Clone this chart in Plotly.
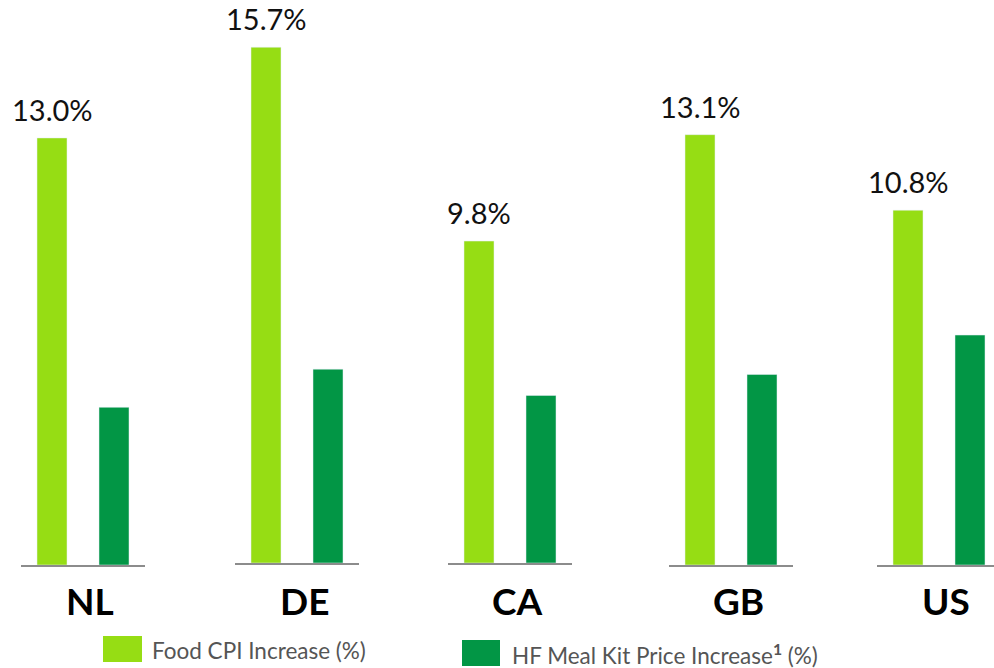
import plotly.graph_objects as go

# ---- data ----
countries = ["NL", "DE", "CA", "GB", "US"]
food_cpi = [13.0, 15.7, 9.8, 13.1, 10.8]
hf_price = [4.8, 5.9, 5.1, 5.8, 7.0]
series_names = ["Food CPI Increase (%)", "HF Meal Kit Price Increase<sup><b>1</b></sup> (%)"]
colors = ["#96DD14", "#029645"]

# ---- layout geometry (pixels) ----
W, H = 994, 668
group_left = [21, 235, 448, 669, 877]
group_base = [565, 563, 563, 565, 565]
axis_w = 124
px_per_unit = 32.85

fig = go.Figure()
for i, c in enumerate(countries):
    ax = "" if i == 0 else str(i + 1)
    L = group_left[i]
    R = min(L + axis_w, W)
    base = group_base[i]
    xr_right = -0.5 + (R - L) / 62.0
    fig.add_trace(go.Bar(x=[0], y=[food_cpi[i]], marker_color=colors[0], width=30 / 62,
                         xaxis="x" + ax, yaxis="y" + ax, showlegend=False, hoverinfo="y"))
    fig.add_trace(go.Bar(x=[1], y=[hf_price[i]], marker_color=colors[1], width=30 / 62,
                         xaxis="x" + ax, yaxis="y" + ax, showlegend=False, hoverinfo="y"))
    fig.update_layout(**{
        "xaxis" + ax: dict(domain=[L / W, R / W], range=[-0.5, xr_right], showgrid=False,
                           zeroline=False, showticklabels=False, ticks="", showline=True,
                           linecolor="#8c8c8c", linewidth=2, anchor="y" + ax, fixedrange=True),
        "yaxis" + ax: dict(domain=[(H - base) / H, 1], range=[0, base / px_per_unit],
                           showgrid=False, zeroline=False, showticklabels=False, showline=False,
                           anchor="x" + ax, fixedrange=True),
    })
    fig.add_annotation(x=0, y=food_cpi[i], xref="x" + ax, yref="y" + ax,
                       text=f"{food_cpi[i]:.1f}%", showarrow=False, yanchor="bottom",
                       yshift=9, font=dict(family="Lato", size=29, color="#111111"))
    fig.add_annotation(x=0.62, y=(H - 600) / H, xref="x" + ax, yref="paper",
                       text=f"<b>{c}</b>", showarrow=False, yanchor="middle",
                       font=dict(family="Lato", size=37, color="#000000"))

# custom legend
legend_items = [(103, 636, 142, 662, 150), (462, 640, 500, 666, 510)]
for (x0, y0, x1, y1, tx), name, col in zip(legend_items, series_names, colors):
    fig.add_shape(type="rect", xref="paper", yref="paper", x0=x0 / W, x1=x1 / W,
                  y0=(H - y1) / H, y1=(H - y0) / H, fillcolor=col, line_width=0)
    fig.add_annotation(x=tx / W, y=(H - (y0 + y1) / 2 - 1) / H, xref="paper", yref="paper",
                       text=name, showarrow=False, xanchor="left", yanchor="middle",
                       font=dict(family="Lato", size=22.5, color="#555555"))

fig.update_layout(width=W, height=H, margin=dict(l=0, r=0, t=0, b=0),
                  plot_bgcolor="white", paper_bgcolor="white", showlegend=False,
                  barmode="overlay")
fig.write_html("out.html", config={"displayModeBar": False})
